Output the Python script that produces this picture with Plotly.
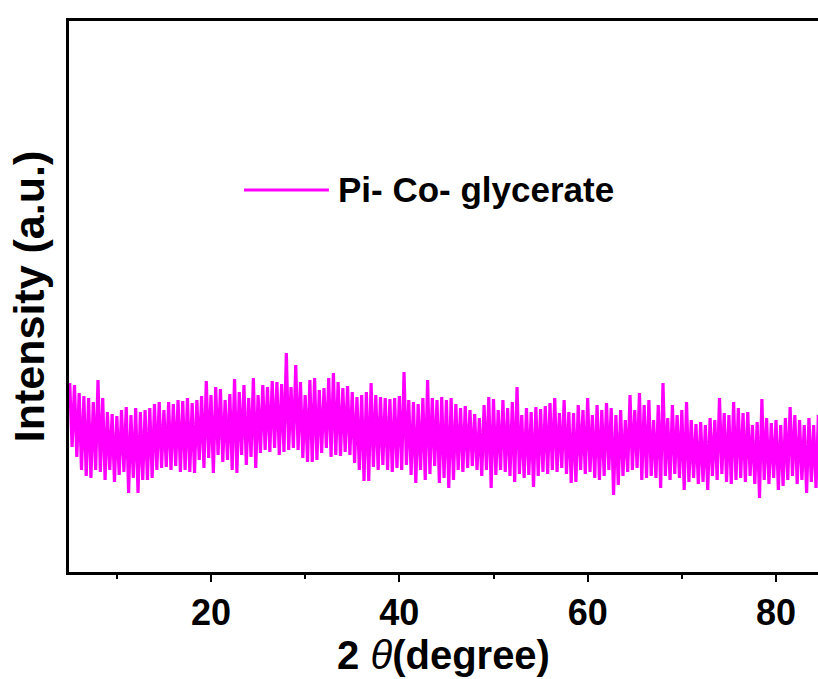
import plotly.graph_objects as go

# XRD scan of Pi-Co-glycerate: the broad amorphous hump is traced by the
# upper and lower excursions of the noisy signal, sampled every 0.5 degree.
scan_start = 5.0
scan_step = 0.5

upper_counts = [
    189, 187, 179, 176, 174, 170, 192, 174, 160, 158,
    156, 162, 165, 157, 164, 160, 162, 164, 168, 170,
    162, 170, 168, 172, 171, 174, 169, 172, 176, 191,
    177, 185, 183, 172, 178, 193, 180, 187, 174, 194,
    177, 187, 185, 191, 190, 188, 219, 185, 207, 190,
    177, 192, 194, 182, 184, 194, 199, 190, 184, 186,
    180, 175, 177, 180, 189, 177, 175, 174, 173, 174,
    176, 200, 172, 170, 168, 174, 192, 174, 172, 175,
    172, 174, 168, 164, 166, 162, 158, 154, 167, 175,
    173, 162, 172, 164, 170, 185, 157, 164, 160, 165,
    163, 166, 169, 174, 159, 172, 160, 159, 167, 162,
    174, 157, 167, 162, 169, 164, 157, 162, 152, 177,
    162, 179, 167, 172, 152, 167, 189, 154, 167, 157,
    162, 170, 152, 148, 150, 147, 154, 152, 174, 159,
    157, 170, 164, 159, 160, 147, 150, 173, 154, 149,
    152, 147, 154, 165, 157, 152, 147, 154, 147, 157,
]

lower_counts = [
    125, 115, 102, 96, 94, 102, 100, 92, 102, 90,
    97, 100, 79, 94, 79, 92, 92, 94, 102, 104,
    105, 102, 106, 100, 102, 100, 99, 112, 104, 114,
    99, 117, 110, 112, 102, 99, 117, 107, 115, 104,
    119, 122, 120, 124, 117, 120, 122, 124, 122, 114,
    110, 110, 112, 119, 124, 115, 117, 116, 120, 117,
    109, 102, 91, 91, 105, 102, 107, 102, 100, 104,
    102, 107, 97, 89, 102, 92, 98, 106, 89, 94,
    84, 92, 102, 100, 104, 106, 102, 96, 102, 84,
    97, 102, 100, 96, 90, 98, 94, 97, 85, 96,
    100, 98, 102, 100, 104, 98, 89, 90, 102, 98,
    100, 94, 92, 96, 102, 77, 87, 96, 100, 102,
    104, 92, 94, 96, 94, 84, 96, 92, 98, 94,
    82, 90, 94, 88, 90, 82, 96, 92, 98, 90,
    88, 92, 94, 90, 96, 88, 74, 92, 88, 94,
    82, 86, 92, 96, 88, 92, 79, 90, 84, 88,
]

x_ticks = [20, 40, 60, 80]
x_tick_labels = ["20", "40", "60", "80"]
x_minor_ticks = [10, 30, 50, 70]
series_name = "Pi- Co- glycerate"

# interleave the high and low excursions into one continuous trace
two_theta = []
intensity = []
for i, (hi, lo) in enumerate(zip(upper_counts, lower_counts)):
    t = scan_start + scan_step * i
    two_theta.append(t)
    intensity.append(hi)
    two_theta.append(t + scan_step / 2)
    intensity.append(lo)

FONT = "Liberation Sans, Arial, Helvetica, sans-serif"
MAGENTA = "#FF00FF"

fig = go.Figure()
fig.add_trace(go.Scatter(
    x=two_theta, y=intensity, mode="lines", name=series_name,
    line=dict(color=MAGENTA, width=3.2), showlegend=False,
))

# legend entry: long line sample + bold label
fig.add_shape(type="line", xref="paper", yref="paper",
              x0=0.2336, x1=0.347, y0=0.6933, y1=0.6933,
              line=dict(color=MAGENTA, width=3))
fig.add_annotation(xref="paper", yref="paper", x=0.357, y=0.6933,
                   xanchor="left", yanchor="middle", showarrow=False,
                   text="<b>" + series_name + "</b>",
                   font=dict(family=FONT, size=35, color="black"))

fig.update_layout(
    width=818, height=679,
    margin=dict(l=69, r=0, t=21, b=107),
    paper_bgcolor="white", plot_bgcolor="white",
    font=dict(family=FONT, color="black"),
)
fig.update_xaxes(
    range=[4.92, 84.46],
    showline=True, linecolor="black", linewidth=3, mirror=True,
    showgrid=False, zeroline=False,
    tickmode="array", tickvals=x_ticks,
    ticktext=["<b>%s</b>" % t for t in x_tick_labels],
    ticks="outside", ticklen=7, tickwidth=2, tickcolor="black",
    tickfont=dict(family=FONT, size=36, color="black"),
    minor=dict(ticks="outside", ticklen=4, tickwidth=2, tickcolor="black",
               tickvals=x_minor_ticks, showgrid=False),
    title=dict(text="<b>2</b> <i>θ</i><b>(degree)</b>", standoff=2,
               font=dict(family=FONT, size=40, color="black")),
)
fig.update_yaxes(
    range=[0, 551],
    showline=True, linecolor="black", linewidth=3, mirror=False,
    showgrid=False, zeroline=False, showticklabels=False, ticks="",
    title=dict(text="<b>Intensity (a.u.)</b>", standoff=8,
               font=dict(family=FONT, size=43, color="black")),
)

fig.write_html("out.html")
